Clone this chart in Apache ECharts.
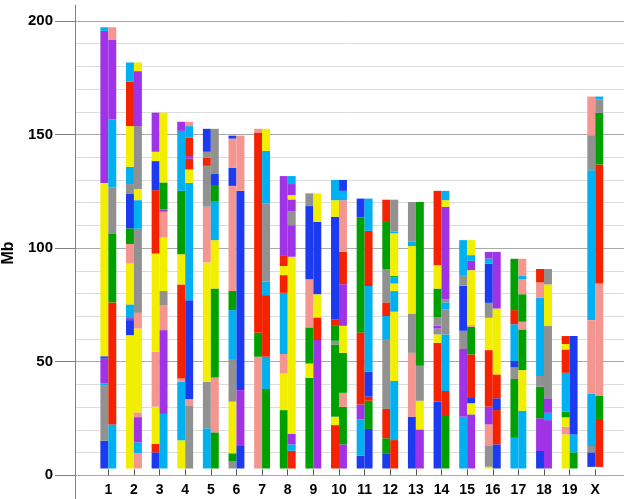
<!DOCTYPE html>
<html>
<head>
<meta charset="utf-8">
<script src="https://cdn.jsdelivr.net/npm/echarts@6/dist/echarts.min.js"></script>
<style>
  html, body { margin: 0; padding: 0; background: #fff; }
  #chart { width: 624px; height: 499px; }
</style>
</head>
<body>
<div id="chart"></div>
<script>
// Founder haplotype mosaic along each mouse chromosome (two homologs per chromosome).
const chromosomes = ['1','2','3','4','5','6','7','8','9','10','11','12','13','14','15','16','17','18','19','X'];
const blockStart = [3, 3, 3, 3, 3, 3, 3, 3, 3, 3, 3, 3, 3, 3, 3, 3, 3, 3, 3, 3.7];

// Founder codes (CC convention) and their colours
const founders = ['A', 'B', 'C', 'D', 'E', 'F', 'G', 'H'];
const founderColors = ['#f2ee00', '#919191', '#f4958f', '#1c3af0', '#00b0f0', '#00a000', '#f52200', '#a033e6'];

// Blocks listed as [end (Mb), founder] from the proximal end upwards
const chr1Left   = [[15.2,'D'],[39.7,'B'],[40.5,'E'],[51.4,'H'],[52.4,'D'],[128.7,'A'],[195.6,'H'],[197.2,'E']];
const chr1Right  = [[22.4,'E'],[76.1,'G'],[106.5,'F'],[126.7,'B'],[156.6,'E'],[191.8,'H'],[197.2,'C']];
const chr2Left   = [[61.7,'A'],[68.3,'D'],[69.2,'H'],[75.2,'E'],[93.2,'A'],[101.8,'C'],[108.7,'F'],[123.8,'D'],[128.2,'B'],[135.8,'E'],[153.7,'A'],[173.2,'G'],[181.7,'E']];
const chr2Right  = [[9.7,'C'],[14.5,'E'],[25.6,'H'],[27.7,'C'],[64.6,'A'],[71.5,'C'],[108.5,'B'],[121.1,'E'],[126.0,'A'],[153.7,'B'],[177.9,'H'],[181.7,'A']];
const chr3Left   = [[10.1,'D'],[13.8,'G'],[30.2,'A'],[54.4,'C'],[97.6,'A'],[125.5,'G'],[138.3,'D'],[142.4,'A'],[159.6,'H']];
const chr3Right  = [[27.0,'E'],[63.9,'H'],[74.9,'C'],[81.1,'B'],[104.7,'A'],[116.0,'C'],[117.0,'H'],[128.9,'F'],[159.6,'A']];
const chr4Left   = [[15.4,'A'],[41.2,'E'],[42.6,'C'],[84.0,'G'],[97.3,'A'],[125.2,'F'],[151.6,'E'],[155.6,'H']];
const chr4Right  = [[30.5,'B'],[33.6,'C'],[77.1,'D'],[128.7,'E'],[134.6,'A'],[139.4,'G'],[140.5,'H'],[148.7,'G'],[153.7,'E'],[155.6,'C']];
const chr5Left   = [[20.7,'E'],[41.2,'B'],[93.7,'A'],[118.2,'C'],[136.2,'B'],[139.7,'G'],[142.4,'B'],[152.5,'D']];
const chr5Right  = [[18.9,'F'],[43.1,'C'],[82.2,'F'],[103.5,'A'],[120.4,'E'],[127.4,'F'],[132.6,'D'],[152.5,'B']];
const chr6Left   = [[6.3,'B'],[9.7,'F'],[32.4,'A'],[51.2,'B'],[72.7,'E'],[81.1,'F'],[127.4,'C'],[135.3,'D'],[148.2,'C'],[149.5,'D']];
const chr6Right  = [[12.9,'D'],[37.5,'H'],[125.2,'D'],[149.5,'C']];
const chr7Left   = [[52.2,'C'],[62.7,'F'],[150.9,'G'],[152.5,'C']];
const chr7Right  = [[38.0,'F'],[52.2,'E'],[79.3,'G'],[85.2,'E'],[119.7,'B'],[142.8,'E'],[152.5,'A']];
const chr8Left   = [[28.7,'F'],[44.8,'A'],[53.4,'C'],[80.3,'E'],[88.1,'G'],[92.1,'A'],[96.9,'G'],[131.7,'H']];
const chr8Right  = [[10.8,'G'],[13.6,'E'],[18.2,'H'],[96.2,'A'],[110.1,'H'],[116.3,'B'],[121.4,'H'],[123.3,'A'],[128.2,'H'],[131.7,'E']];
const chr9Left   = [[42.9,'F'],[49.2,'A'],[65.1,'F'],[86.3,'C'],[118.5,'D'],[124.1,'B']];
const chr9Right  = [[59.5,'H'],[69.5,'G'],[79.7,'A'],[111.6,'D'],[124.1,'A']];
const chr10Left  = [[22.1,'G'],[25.8,'A'],[57.6,'F'],[59.2,'B'],[66.1,'F'],[68.7,'G'],[113.8,'D'],[121.1,'A'],[130.0,'E']];
const chr10Right = [[13.6,'H'],[30.2,'F'],[36.3,'C'],[53.9,'F'],[65.8,'A'],[84.1,'H'],[98.4,'G'],[121.1,'C'],[125.2,'E'],[130.0,'D']];
const chr11Left  = [[8.6,'D'],[24.6,'E'],[31.2,'H'],[62.9,'G'],[113.4,'F'],[121.8,'D']];
const chr11Right = [[20.4,'D'],[32.8,'F'],[34.6,'G'],[45.6,'D'],[83.3,'E'],[107.6,'G'],[121.8,'E']];
const chr12Left  = [[9.7,'D'],[16.3,'F'],[29.2,'G'],[60.0,'B'],[70.1,'E'],[76.1,'G'],[90.6,'B'],[111.9,'F'],[121.3,'G']];
const chr12Right = [[15.5,'G'],[41.5,'E'],[72.0,'A'],[81.1,'E'],[84.4,'A'],[87.1,'E'],[87.7,'F'],[106.5,'A'],[107.2,'E'],[121.3,'B']];
const chr13Left  = [[25.8,'D'],[53.9,'C'],[71.2,'B'],[100.9,'A'],[102.8,'E'],[120.3,'B']];
const chr13Right = [[20.2,'H'],[32.8,'A'],[48.2,'B'],[120.3,'F']];
const chr14Left  = [[32.4,'D'],[58.3,'G'],[62.0,'A'],[64.6,'B'],[65.8,'H'],[69.5,'B'],[82.2,'F'],[92.5,'A'],[125.2,'G']];
const chr14Right = [[26.1,'F'],[37.1,'G'],[62.0,'E'],[73.1,'B'],[76.1,'E'],[77.5,'B'],[118.2,'H'],[121.1,'A'],[125.2,'E']];
const chr15Left  = [[25.8,'E'],[55.6,'H'],[63.6,'B'],[83.4,'D'],[87.8,'B'],[103.5,'E']];
const chr15Right = [[26.8,'H'],[31.7,'A'],[34.4,'D'],[53.2,'G'],[65.4,'F'],[66.1,'C'],[90.3,'A'],[94.4,'H'],[96.9,'E'],[103.5,'A']];
const chr16Left  = [[3.8,'A'],[12.9,'B'],[22.4,'C'],[30.2,'H'],[55.1,'G'],[69.3,'A'],[75.9,'B'],[93.2,'D'],[95.4,'E'],[98.3,'H']];
const chr16Right = [[13.6,'D'],[28.7,'G'],[33.9,'D'],[44.4,'G'],[73.4,'A'],[98.3,'H']];
const chr17Left  = [[16.5,'E'],[42.4,'F'],[47.5,'B'],[50.3,'D'],[66.5,'E'],[72.7,'G'],[95.3,'F']];
const chr17Right = [[28.4,'E'],[46.3,'A'],[64.2,'F'],[67.6,'C'],[79.7,'F'],[86.3,'C'],[87.7,'E'],[95.3,'C']];
const chr18Left  = [[10.7,'D'],[25.1,'H'],[39.0,'F'],[43.7,'B'],[78.1,'E'],[84.9,'C'],[90.8,'G']];
const chr18Right = [[24.3,'H'],[27.5,'E'],[33.9,'H'],[65.7,'B'],[84.0,'A'],[90.8,'B']];
const chr19Left  = [[18.0,'A'],[21.4,'C'],[25.5,'A'],[28.0,'F'],[45.1,'E'],[55.4,'G'],[57.8,'A'],[61.3,'G']];
const chr19Right = [[10.1,'F'],[18.0,'E'],[61.3,'D']];
const chrXLeft   = [[10.1,'D'],[12.9,'B'],[35.8,'E'],[68.3,'C'],[134.3,'E'],[149.7,'B'],[166.7,'C']];
const chrXRight  = [[24.8,'G'],[34.9,'F'],[84.4,'C'],[136.8,'G'],[159.5,'F'],[165.4,'B'],[166.7,'E']];

const homologs = [
  [chr1Left, chr1Right], [chr2Left, chr2Right], [chr3Left, chr3Right], [chr4Left, chr4Right],
  [chr5Left, chr5Right], [chr6Left, chr6Right], [chr7Left, chr7Right], [chr8Left, chr8Right],
  [chr9Left, chr9Right], [chr10Left, chr10Right], [chr11Left, chr11Right], [chr12Left, chr12Right],
  [chr13Left, chr13Right], [chr14Left, chr14Right], [chr15Left, chr15Right], [chr16Left, chr16Right],
  [chr17Left, chr17Right], [chr18Left, chr18Right], [chr19Left, chr19Right], [chrXLeft, chrXRight]
];

const yTicks = [0, 50, 100, 150, 200];

// Flatten blocks into [chromIndex, side, start, end, founderIndex]
const blocks = [];
homologs.forEach((pair, ci) => {
  pair.forEach((list, side) => {
    let start = blockStart[ci];
    list.forEach(([end, f]) => {
      blocks.push([ci, side, start, end, founders.indexOf(f)]);
      start = end;
    });
  });
});

const FONT = 'Arial, "Liberation Sans", sans-serif';
const Y_MAX = 207;
const COLUMN_FRACTION = 0.31;

const chart = echarts.init(document.getElementById('chart'), null, { renderer: 'canvas' });

chart.setOption({
  animation: false,
  backgroundColor: '#ffffff',
  grid: [
    { left: 75, right: 0, top: 5, bottom: 23.7, containLabel: false },
    { left: 95.5, right: 15.9, top: 5, bottom: 23.7, containLabel: false }
  ],
  xAxis: [
    { type: 'value', gridIndex: 0, min: 0, max: 1, show: false },
    {
      type: 'category', gridIndex: 1, data: chromosomes,
      boundaryGap: true,
      axisLine: { show: false },
      axisTick: { show: true, alignWithLabel: true, inside: true, length: 6, lineStyle: { color: '#555', width: 1 } },
      axisLabel: { color: '#000', fontFamily: FONT, fontWeight: 'bold', fontSize: 14, margin: 8, interval: 0 },
      splitLine: { show: false }
    }
  ],
  yAxis: [
    {
      // minor grid every 10 Mb, darker every 50 Mb
      type: 'value', gridIndex: 0, position: 'left', min: 0, max: Y_MAX, interval: 10,
      axisLine: { show: false }, axisTick: { show: false }, axisLabel: { show: false },
      splitLine: { show: true, showMaxLine: false, lineStyle: { color: ['#a9a9a9', '#dcdcdc', '#dcdcdc', '#dcdcdc', '#dcdcdc'], width: 1 } }
    },
    {
      type: 'value', gridIndex: 0, position: 'left', offset: 0, min: 0, max: Y_MAX, interval: 50,
      axisLine: { show: true, lineStyle: { color: '#808080', width: 1 } },
      axisTick: { show: true, length: 20, lineStyle: { color: '#808080', width: 1 } },
      axisLabel: {
        color: '#000', fontFamily: FONT, fontWeight: 'bold', fontSize: 15, margin: 22,
        showMaxLabel: false,
        formatter: v => (yTicks.includes(v) ? String(v) : '')
      },
      splitLine: { show: false }
    },
    { type: 'value', gridIndex: 1, position: 'left', min: 0, max: Y_MAX, show: false }
  ],
  series: [{
    type: 'custom',
    coordinateSystem: 'cartesian2d',
    xAxisIndex: 1,
    yAxisIndex: 2,
    data: blocks,
    encode: { x: 0, y: [2, 3] },
    renderItem: (params, api) => {
      const ci = api.value(0);
      const side = api.value(1);
      const bottom = api.coord([ci, api.value(2)]);
      const top = api.coord([ci, api.value(3)]);
      const w = api.size([1, 0])[0] * COLUMN_FRACTION;
      const x = side === 0 ? bottom[0] - w : bottom[0];
      return {
        type: 'rect',
        shape: { x: x, y: top[1], width: w, height: bottom[1] - top[1] },
        style: { fill: founderColors[api.value(4)] }
      };
    }
  }]
});

// extend the vertical axis line down to the lower edge, and add the axis title
const origin = chart.convertToPixel({ xAxisIndex: 0, yAxisIndex: 1 }, [0, 0]);
chart.setOption({
  graphic: [
    {
      type: 'line',
      shape: { x1: origin[0] + 0.5, y1: origin[1], x2: origin[0] + 0.5, y2: 499 },
      style: { stroke: '#808080', lineWidth: 1 },
      silent: true
    },
    {
      type: 'text',
      x: 9, y: 253,
      rotation: Math.PI / 2,
      style: {
        text: 'Mb', fill: '#000',
        font: 'bold 16px Arial, "Liberation Sans", sans-serif',
        align: 'center', verticalAlign: 'middle'
      },
      silent: true
    }
  ]
});
</script>
</body>
</html>
